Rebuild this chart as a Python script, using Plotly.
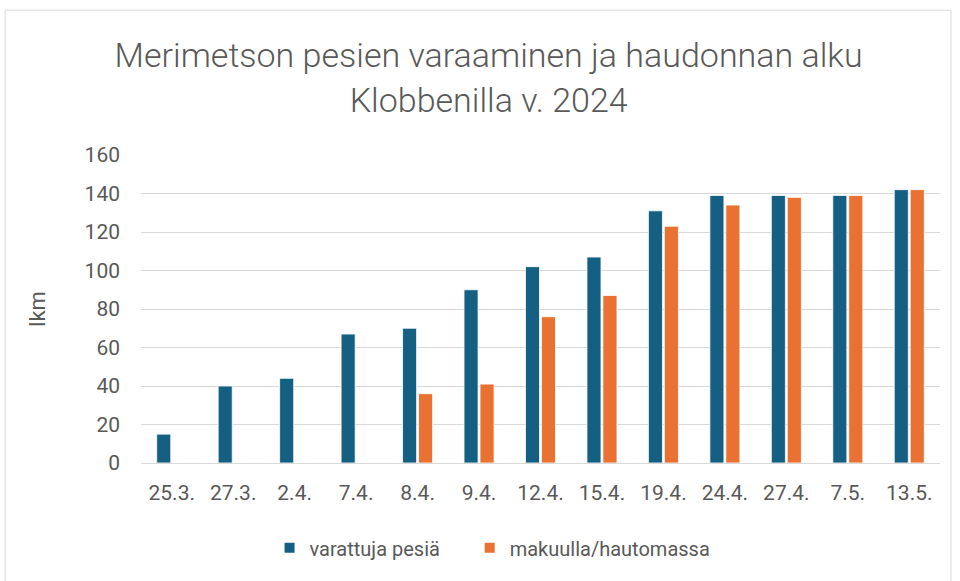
import plotly.graph_objects as go

categories = ["25.3.", "27.3.", "2.4.", "7.4.", "8.4.", "9.4.", "12.4.", "15.4.", "19.4.", "24.4.", "27.4.", "7.5.", "13.5."]
varattuja = [15, 40, 44, 67, 70, 90, 102, 107, 131, 139, 139, 139, 142]
makuulla = [None, None, None, None, 36, 41, 76, 87, 123, 134, 138, 139, 142]
y_ticks = [0, 20, 40, 60, 80, 100, 120, 140, 160]
series_names = ["varattuja pesiä", "makuulla/hautomassa"]

BLUE = "#156082"
ORANGE = "#E97132"
GRAY = "#595959"
FONT = "Roboto"
PAD = "\u00a0" * 5

fig = go.Figure()
fig.add_trace(go.Bar(x=categories, y=varattuja, name=series_names[0] + PAD,
                     marker=dict(color=BLUE, line=dict(color="white", width=0.8))))
fig.add_trace(go.Bar(x=categories, y=makuulla, name=series_names[1],
                     marker=dict(color=ORANGE, line=dict(color="white", width=0.8))))

fig.update_layout(
    width=960, height=581,
    paper_bgcolor="white", plot_bgcolor="white",
    margin=dict(l=141, r=20, t=155, b=118),
    barmode="group", bargap=0.48, bargroupgap=0.12,
    font=dict(family=FONT, color=GRAY),
    title=dict(text="Merimetson pesien varaaminen ja haudonnan alku<br>Klobbenilla v. 2024",
               x=0.509, xanchor="center", y=0.884, yanchor="middle",
               font=dict(family=FONT, size=34, color=GRAY, weight=300)),
    xaxis=dict(showgrid=False, showline=True, linecolor="#D9D9D9", linewidth=1,
               ticks="", tickfont=dict(size=21, color=GRAY), ticklabelstandoff=11),
    yaxis=dict(range=[0, 160], tickvals=y_ticks, showgrid=True, gridcolor="#D9D9D9",
               gridwidth=1, zeroline=False, showline=False,
               tickfont=dict(size=21, color=GRAY), ticklabelstandoff=20,
               title=dict(text="lkm", font=dict(size=22, color=GRAY), standoff=32)),
    legend=dict(orientation="h", x=0.44, xanchor="center", y=-0.275, yanchor="middle",
                font=dict(size=20, color=GRAY), traceorder="normal", itemsizing="constant"),
    shapes=[dict(type="rect", xref="paper", yref="paper",
                 x0=-0.170, x1=1.0138, y0=-0.40, y1=1.470,
                 line=dict(color="#D9D9D9", width=1), fillcolor="rgba(0,0,0,0)", layer="below")],
)

fig.write_html("out.html", post_script="document.body.style.margin='0';",
               config={"displayModeBar": False})
